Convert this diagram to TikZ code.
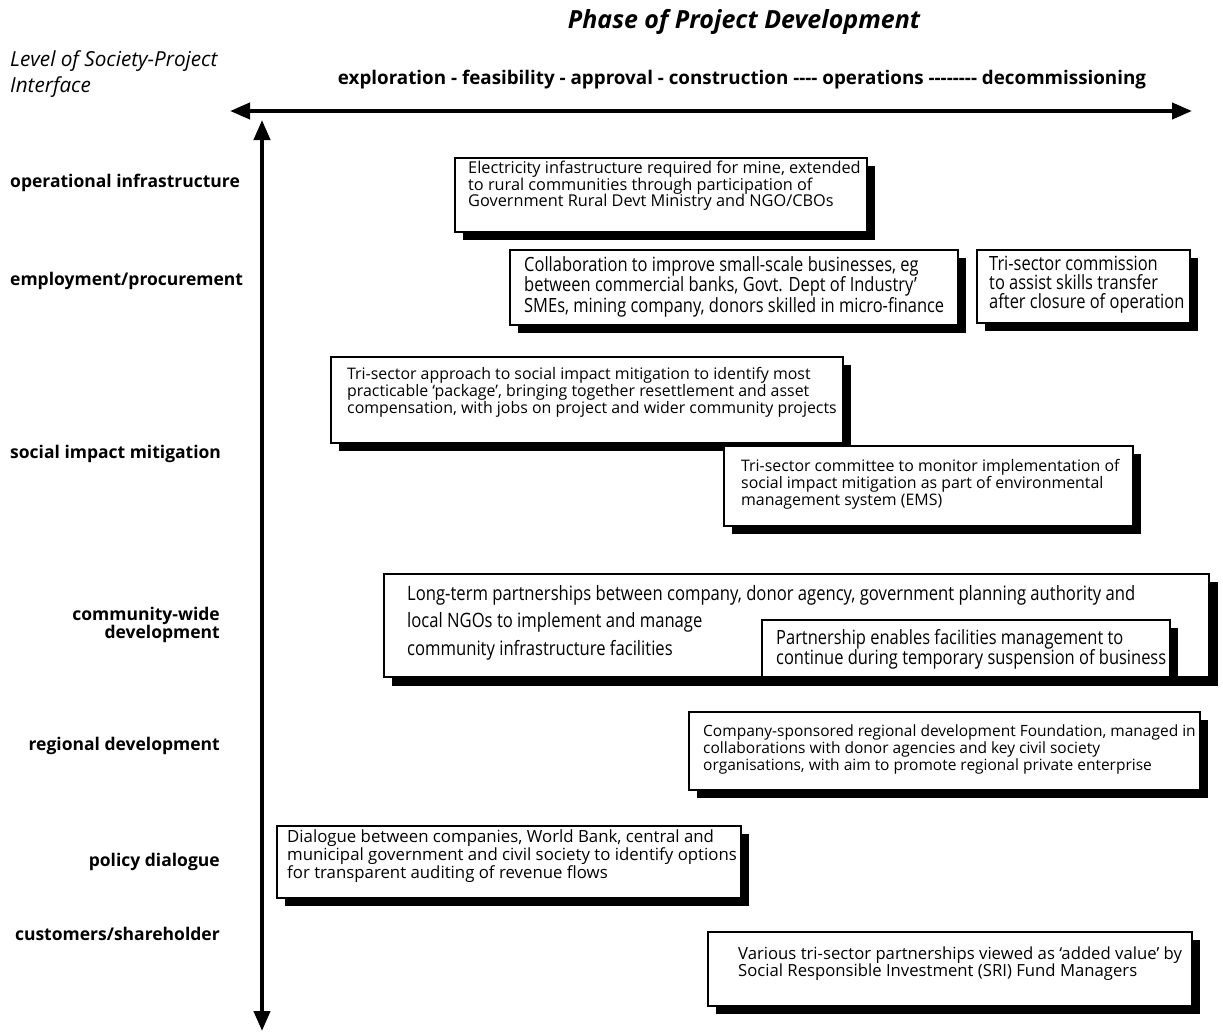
\documentclass[tikz,border=0pt]{standalone}
\usepackage{fontspec}
\setmainfont{Open Sans}
\newfontfamily\condfont[FakeStretch=0.84]{Open Sans}
\usetikzlibrary{arrows.meta}

\tikzset{
  notebox/.style = {draw=black, fill=white, line width=1.2pt},
  boxshadow/.style = {fill=black},
  notetext/.style = {anchor=north west, inner sep=0pt, align=left,
                     font=\fontsize{16.3}{16.6}\selectfont},
  condtext/.style = {anchor=north west, inner sep=0pt, align=left,
                     font=\condfont\fontsize{19.6}{19}\selectfont},
  level/.style = {inner sep=0pt, font=\bfseries\fontsize{17.5}{17}\selectfont},
  axis/.style = {line width=4pt, {Triangle[length=20pt,width=16pt]}-{Triangle[length=20pt,width=16pt]}}
}

\begin{document}
\begin{tikzpicture}[x=1pt, y=-1pt]
  \useasboundingbox (0,0) rectangle (1223,1033);

  % titles
  \node (phase) at (744,22) {\bfseries\itshape\fontsize{25}{28}\selectfont Phase of Project Development};
  \node[anchor=north west, inner sep=0pt, align=left, font=\itshape\fontsize{20.7}{26}\selectfont]
    (level) at (10,50) {Level of Society-Project\\Interface};
  \node (stages) at (742,80) {\bfseries\fontsize{18.8}{21}\selectfont exploration - feasibility - approval - construction -{}-{}-{}- operations -{}-{}-{}-{}-{}-{}-{}- decommissioning};

  % axes
  \coordinate (tleft) at (230,111);
  \coordinate (tright) at (1192,111);
  \coordinate (vtop) at (262,120);
  \coordinate (vbot) at (262,1031);
  \draw [axis] (tleft) -- (tright);
  \draw [axis] (vtop) -- (vbot);

  % levels
  \node[level, anchor=west] (opinf) at (10,183) {operational infrastructure};
  \node[level, anchor=west] (emp) at (10,281) {employment/procurement};
  \node[level, anchor=west] (sim) at (10,454) {social impact mitigation};
  \node[level, anchor=east, align=right] (cwd) at (220,625) {community-wide\\development};
  \node[level, anchor=east] (reg) at (220,746) {regional development};
  \node[level, anchor=east] (pol) at (220,862) {policy dialogue};
  \node[level, anchor=east] (cus) at (220,934) {customers/shareholder};

  % operational infrastructure
  \fill [boxshadow] (463,166) rectangle (875,240);
  \draw [notebox] (455,158) rectangle (867,232);
  \node[notetext] (elec) at (468,161) {Electricity infastructure required for mine, extended\\to rural communities through participation of\\Government Rural Devt Ministry and NGO/CBOs};

  % employment/procurement
  \fill [boxshadow] (518,258) rectangle (966,333);
  \draw [notebox] (510,250) rectangle (958,325);
  \node[condtext] (collab) at (524,256) {Collaboration to improve small-scale businesses, eg\\between commercial banks, Govt. Dept of Industry’\\SMEs, mining company, donors skilled in micro-finance};

  \fill [boxshadow] (985,258) rectangle (1198,331);
  \draw [notebox] (977,250) rectangle (1190,323);
  \node[condtext] (commis) at (989,256) {Tri-sector commission\\to assist skills transfer\\after closure of operation};

  % social impact mitigation
  \fill [boxshadow] (339,365) rectangle (851,451);
  \draw [notebox] (331,357) rectangle (843,443);
  \node[notetext, font=\fontsize{15.9}{17}\selectfont] (approach) at (347,367) {Tri-sector approach to social impact mitigation to identify most\\practicable ‘package’, bringing together resettlement and asset\\compensation, with jobs on project and wider community projects};

  \fill [boxshadow] (732,454) rectangle (1141,534);
  \draw [notebox] (724,446) rectangle (1133,526);
  \node[notetext, font=\fontsize{15.9}{17}\selectfont] (monitor) at (741,459) {Tri-sector committee to monitor implementation of\\social impact mitigation as part of environmental\\management system (EMS)};

  % community-wide development
  \fill [boxshadow] (392,582) rectangle (1218,686);
  \draw [notebox] (384,574) rectangle (1209,677);
  \node[condtext, font=\condfont\fontsize{19.8}{27.5}\selectfont] (longterm) at (407,585) {Long-term partnerships between company, donor agency, government planning authority and\\local NGOs to implement and manage\\community infrastructure facilities};

  \fill [boxshadow] (770,628) rectangle (1178,686);
  \draw [notebox] (762,620) rectangle (1170,677);
  \node[condtext] (suspend) at (776,629) {Partnership enables facilities management to\\continue during temporary suspension of business};

  % regional development
  \fill [boxshadow] (697,720) rectangle (1208,798);
  \draw [notebox] (689,712) rectangle (1200,790);
  \node[notetext, font=\fontsize{15.5}{17}\selectfont] (found) at (703,725) {Company-sponsored regional development Foundation, managed in\\collaborations with donor agencies and key civil society\\organisations, with aim to promote regional private enterprise};

  % policy dialogue
  \fill [boxshadow] (285,834) rectangle (749,906);
  \draw [notebox] (277,826) rectangle (741,898);
  \node[notetext, font=\fontsize{16.8}{16.6}\selectfont] (dialog) at (287,830) {Dialogue between companies, World Bank, central and\\municipal government and civil society to identify options\\for transparent auditing of revenue flows};

  % customers/shareholder
  \fill [boxshadow] (716,940) rectangle (1200,1014);
  \draw [notebox] (708,932) rectangle (1192,1006);
  \node[notetext, font=\fontsize{16.7}{17}\selectfont] (sri) at (738,947) {Various tri-sector partnerships viewed as ‘added value’ by\\Social Responsible Investment (SRI) Fund Managers};
\end{tikzpicture}
\end{document}
